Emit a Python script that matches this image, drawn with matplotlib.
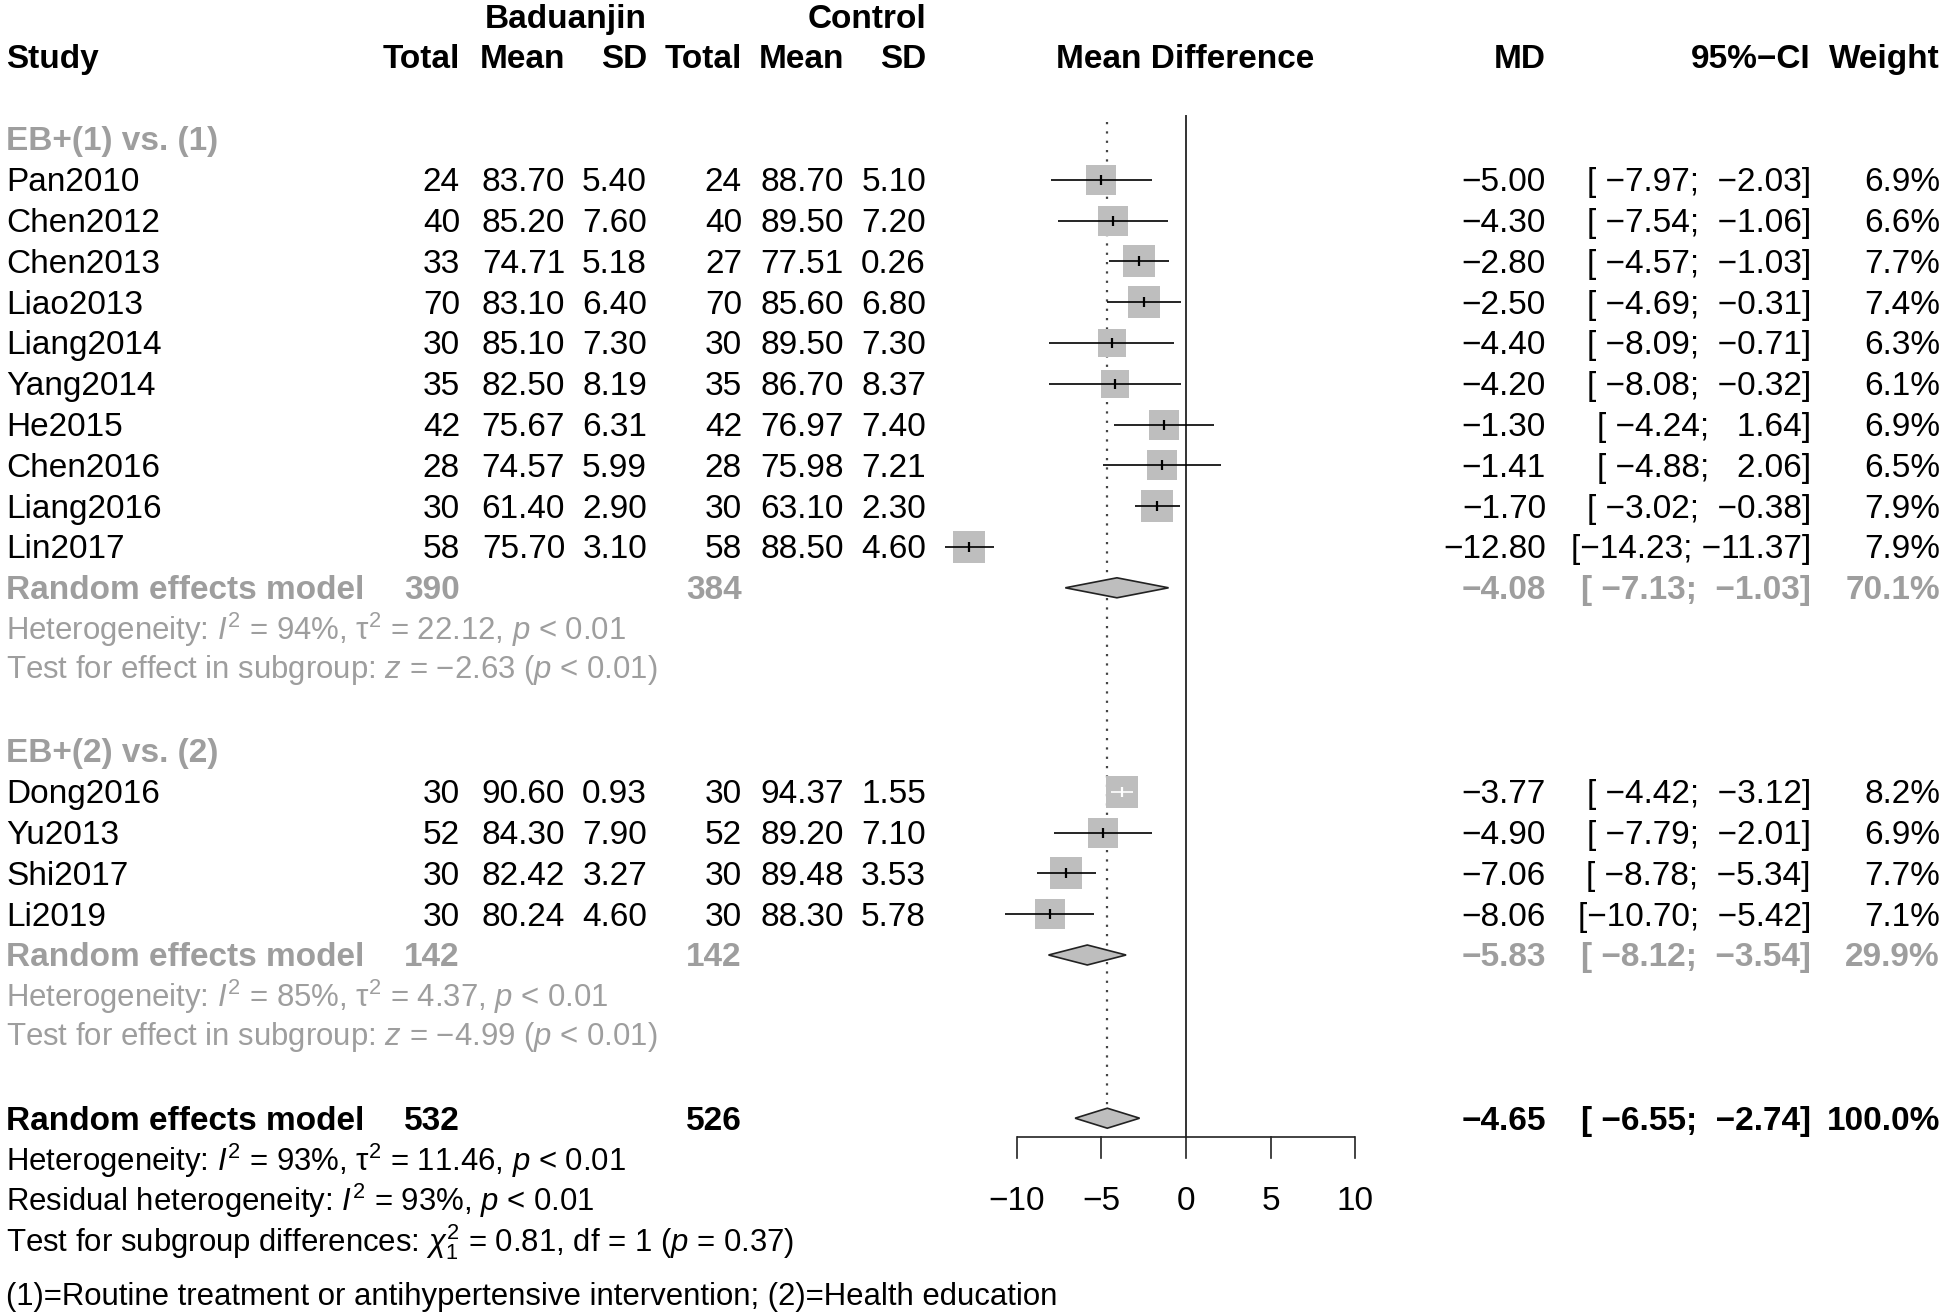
import matplotlib
matplotlib.use("Agg")
import matplotlib.pyplot as plt
from matplotlib.patches import Polygon

# ---------------- data ----------------
group_labels = ["EB+(1) vs. (1)", "EB+(2) vs. (2)"]

studies1 = ["Pan2010", "Chen2012", "Chen2013", "Liao2013", "Liang2014", "Yang2014",
            "He2015", "Chen2016", "Liang2016", "Lin2017"]
b_total1 = [24, 40, 33, 70, 30, 35, 42, 28, 30, 58]
b_mean1 = [83.70, 85.20, 74.71, 83.10, 85.10, 82.50, 75.67, 74.57, 61.40, 75.70]
b_sd1 = [5.40, 7.60, 5.18, 6.40, 7.30, 8.19, 6.31, 5.99, 2.90, 3.10]
c_total1 = [24, 40, 27, 70, 30, 35, 42, 28, 30, 58]
c_mean1 = [88.70, 89.50, 77.51, 85.60, 89.50, 86.70, 76.97, 75.98, 63.10, 88.50]
c_sd1 = [5.10, 7.20, 0.26, 6.80, 7.30, 8.37, 7.40, 7.21, 2.30, 4.60]
md1 = [-5.00, -4.30, -2.80, -2.50, -4.40, -4.20, -1.30, -1.41, -1.70, -12.80]
lo1 = [-7.97, -7.54, -4.57, -4.69, -8.09, -8.08, -4.24, -4.88, -3.02, -14.23]
hi1 = [-2.03, -1.06, -1.03, -0.31, -0.71, -0.32, 1.64, 2.06, -0.38, -11.37]
w1 = [6.9, 6.6, 7.7, 7.4, 6.3, 6.1, 6.9, 6.5, 7.9, 7.9]

studies2 = ["Dong2016", "Yu2013", "Shi2017", "Li2019"]
b_total2 = [30, 52, 30, 30]
b_mean2 = [90.60, 84.30, 82.42, 80.24]
b_sd2 = [0.93, 7.90, 3.27, 4.60]
c_total2 = [30, 52, 30, 30]
c_mean2 = [94.37, 89.20, 89.48, 88.30]
c_sd2 = [1.55, 7.10, 3.53, 5.78]
md2 = [-3.77, -4.90, -7.06, -8.06]
lo2 = [-4.42, -7.79, -8.78, -10.70]
hi2 = [-3.12, -2.01, -5.34, -5.42]
w2 = [8.2, 6.9, 7.7, 7.1]

sub_md = [-4.08, -5.83]
sub_lo = [-7.13, -8.12]
sub_hi = [-1.03, -3.54]
sub_w = [70.1, 29.9]
sub_nb = [390, 142]
sub_nc = [384, 142]
sub_i2 = [94, 85]
sub_tau2 = [22.12, 4.37]
sub_z = [-2.63, -4.99]

all_md, all_lo, all_hi, all_w = -4.65, -6.55, -2.74, 100.0
all_nb, all_nc = 532, 526
all_i2, all_tau2 = 93, 11.46
resid_i2 = 93
chi2, chi_df, chi_p = 0.81, 1, 0.37

x_ticks = [-10, -5, 0, 5, 10]
footnote = "(1)=Routine treatment or antihypertensive intervention; (2)=Health education"

# ---------------- style ----------------
plt.rcParams["font.family"] = ["Liberation Sans", "DejaVu Sans"]
plt.rcParams["mathtext.fontset"] = "custom"
plt.rcParams["mathtext.rm"] = "Liberation Sans"
plt.rcParams["mathtext.it"] = "Liberation Sans:italic"
plt.rcParams["mathtext.bf"] = "Liberation Sans:bold"

FS = 24
FS_NOTE = 22.4
GRAY_TXT = "#9E9E9E"
SQ_COL = "#BEBEBE"
W, H = 1946, 1316
ROW0_PX, ROW_PX = 139.0, 40.8
ZERO_PX, PX_UNIT = 1186.0, 16.93
BASE = 0.28  # baseline offset (rows) so caps are centred on the row

fig = plt.figure(figsize=(W / 100, H / 100), dpi=100)
y_top = -ROW0_PX / ROW_PX
y_bot = (H - ROW0_PX) / ROW_PX

tax = fig.add_axes([0, 0, 1, 1])
tax.set_xlim(0, W)
tax.set_ylim(y_bot, y_top)
tax.axis("off")

fax = fig.add_axes([0, 0, 1, 1])
fax.set_xlim((0 - ZERO_PX) / PX_UNIT, (W - ZERO_PX) / PX_UNIT)
fax.set_ylim(y_bot, y_top)
fax.axis("off")
fax.patch.set_alpha(0)


def f2(v):
    return f"{v:.2f}".replace("-", "\u2212")


def ci(lo, hi):
    return "[" + f2(lo).rjust(6) + "; " + f2(hi).rjust(6) + "]"


def txt(x, row, s, ha="right", bold=False, color="black", size=FS):
    tax.text(x, row + BASE, s, ha=ha, va="baseline", fontsize=size,
             fontweight="bold" if bold else "normal", color=color)


# column positions (px)
X_STUDY, X_BT, X_BM, X_BS, X_CT, X_CM, X_CS = 6, 460, 565, 647, 742, 844, 926
X_MD, X_CI, X_W, X_MDHEAD = 1546, 1811, 1940, 1185

# header
txt(X_BS, -3.0, "Baduanjin", bold=True)
txt(X_CS, -3.0, "Control", bold=True)
txt(X_STUDY, -2.03, "Study", ha="left", bold=True)
for x, s in [(X_BT, "Total"), (X_BM, "Mean"), (X_BS, "SD"), (X_CT, "Total"),
             (X_CM, "Mean"), (X_CS, "SD"), (X_MD, "MD"), (X_CI, "95%\u2212CI"),
             (X_W, "Weight")]:
    txt(x, -2.03, s, bold=True)
txt(X_MDHEAD, -2.03, "Mean Difference", ha="center", bold=True)

groups = [
    (studies1, b_total1, b_mean1, b_sd1, c_total1, c_mean1, c_sd1, md1, lo1, hi1, w1, 0),
    (studies2, b_total2, b_mean2, b_sd2, c_total2, c_mean2, c_sd2, md2, lo2, hi2, w2, 15),
]

px_per_unit = PX_UNIT
for gi, (st, bt, bm, bs, ct, cm, cs, md, lo, hi, w, r0) in enumerate(groups):
    txt(X_STUDY, r0, group_labels[gi], ha="left", bold=True, color=GRAY_TXT)
    for i in range(len(st)):
        r = r0 + 1 + i
        txt(X_STUDY, r, st[i], ha="left")
        txt(X_BT, r, str(bt[i]))
        txt(X_BM, r, f"{bm[i]:.2f}")
        txt(X_BS, r, f"{bs[i]:.2f}")
        txt(X_CT, r, str(ct[i]))
        txt(X_CM, r, f"{cm[i]:.2f}")
        txt(X_CS, r, f"{cs[i]:.2f}")
        txt(X_MD, r, f2(md[i]))
        txt(X_CI, r, ci(lo[i], hi[i]))
        txt(X_W, r, f"{w[i]:.1f}%")
        side_px = 11.42 * w[i] ** 0.5
        side_pt = side_px * 72 / 100
        fax.scatter([md[i]], [r], marker="s", s=side_pt ** 2, color=SQ_COL,
                    linewidths=0, zorder=3)
        half = side_px / 2 / px_per_unit
        inside = (md[i] - lo[i] < half) and (hi[i] - md[i] < half)
        lc = "white" if inside else "black"
        fax.plot([lo[i], hi[i]], [r, r], color=lc, lw=1.2, zorder=4,
                 solid_capstyle="butt")
        fax.plot([md[i]], [r], marker="|", ms=7.5, mew=1.6, color=lc, zorder=5)
    # subgroup summary
    rs = r0 + 1 + len(st)
    txt(X_STUDY, rs, "Random effects model", ha="left", bold=True, color=GRAY_TXT)
    txt(X_BT, rs, str(sub_nb[gi]), bold=True, color=GRAY_TXT)
    txt(X_CT, rs, str(sub_nc[gi]), bold=True, color=GRAY_TXT)
    txt(X_MD, rs, f2(sub_md[gi]), bold=True, color=GRAY_TXT)
    txt(X_CI, rs, ci(sub_lo[gi], sub_hi[gi]), bold=True, color=GRAY_TXT)
    txt(X_W, rs, f"{sub_w[gi]:.1f}%", bold=True, color=GRAY_TXT)
    fax.add_patch(Polygon([(sub_lo[gi], rs), (sub_md[gi], rs - 0.245),
                           (sub_hi[gi], rs), (sub_md[gi], rs + 0.245)],
                          closed=True, facecolor=SQ_COL, edgecolor="#222222",
                          lw=1.2, zorder=4))
    txt(X_STUDY, rs + 1,
        r"Heterogeneity: $I^2$ = " + f"{sub_i2[gi]}%, \u03c4" + r"$^2$ = "
        + f"{sub_tau2[gi]:.2f}, " + r"$p$ < 0.01", ha="left", color=GRAY_TXT,
        size=FS_NOTE)
    txt(X_STUDY, rs + 1.93,
        "Test for effect in subgroup: $z$ = " + f2(sub_z[gi]) + r" ($p$ < 0.01)",
        ha="left", color=GRAY_TXT, size=FS_NOTE)

# overall
RO = 24
txt(X_STUDY, RO, "Random effects model", ha="left", bold=True)
txt(X_BT, RO, str(all_nb), bold=True)
txt(X_CT, RO, str(all_nc), bold=True)
txt(X_MD, RO, f2(all_md), bold=True)
txt(X_CI, RO, ci(all_lo, all_hi), bold=True)
txt(X_W, RO, f"{all_w:.1f}%", bold=True)
fax.add_patch(Polygon([(all_lo, RO), (all_md, RO - 0.245), (all_hi, RO),
                       (all_md, RO + 0.245)], closed=True, facecolor=SQ_COL,
                      edgecolor="#222222", lw=1.2, zorder=4))
txt(X_STUDY, 25.02, r"Heterogeneity: $I^2$ = " + f"{all_i2}%, \u03c4" + r"$^2$ = "
    + f"{all_tau2:.2f}, " + r"$p$ < 0.01", ha="left", size=FS_NOTE)
txt(X_STUDY, 26.0, r"Residual heterogeneity: $I^2$ = " + f"{resid_i2}%, " + r"$p$ < 0.01",
    ha="left", size=FS_NOTE)
txt(X_STUDY, 26.98, r"Test for subgroup differences: $\chi^2_1$ = " + f"{chi2:.2f}, df = "
    + f"{chi_df} " + r"($p$ = " + f"{chi_p:.2f})", ha="left", size=FS_NOTE)
txt(X_STUDY, 28.31, footnote, ha="left", size=FS_NOTE)

# reference lines
AX_ROW, TICK_END, LAB_ROW = 24.46, 24.98, 25.96
fax.plot([0, 0], [-0.56, AX_ROW], color="#333333", lw=1.4, zorder=2)
fax.plot([all_md, all_md], [-0.42, RO - 0.245], color="#444444", lw=1.6,
         ls=(0, (1, 3.2)), zorder=1)

# x axis
fax.plot([min(x_ticks), max(x_ticks)], [AX_ROW, AX_ROW], color="#222222", lw=1.2,
         solid_capstyle="butt")
for t in x_ticks:
    fax.plot([t, t], [AX_ROW, TICK_END], color="#222222", lw=1.2)
    fax.text(t, LAB_ROW + BASE, str(t).replace("-", "\u2212"), ha="center",
             va="baseline", fontsize=FS)

fig.savefig("out.png", dpi=100)
